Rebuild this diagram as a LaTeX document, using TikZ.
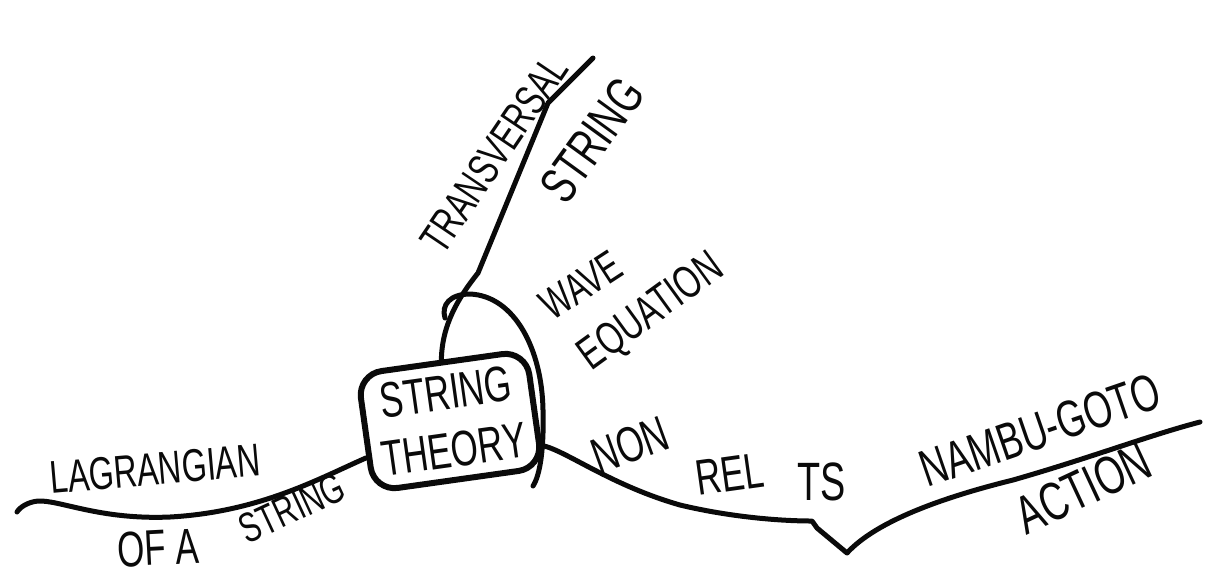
\documentclass[tikz,border=0pt]{standalone}
\usepackage{fontspec}
\setmainfont{Liberation Sans}
\newfontfamily\handfont[FakeStretch=0.7]{Liberation Sans}
\usetikzlibrary{calc}
\definecolor{ink}{gray}{0.04}
\tikzset{
  topic/.style={
    rectangle, draw=ink, line width=3pt, rounded corners=12pt,
    minimum width=85pt, minimum height=59pt,
    align=center, inner sep=2pt, text=ink,
    font=\handfont\fontsize{25}{29}\selectfont
  },
  branch/.style={draw=ink, line width=2.5pt, line cap=round, line join=round},
  tag/.style={text=ink, inner sep=0pt, font=\handfont\fontsize{#1}{#1}\selectfont},
  tag/.default=24
}

\begin{document}
\begin{tikzpicture}[x=0.5pt, y=-0.5pt]
  \useasboundingbox (0,0) rectangle (1214,580);

  % central topic
  \node[topic, rotate=8] (theory) at (450,421) {STRING\\THEORY};

  % free ends of the branches
  \coordinate (lagEnd) at (17,512);
  \coordinate (transEnd) at (593,58);
  \coordinate (waveA) at (445,318);
  \coordinate (waveB) at (533,486);
  \coordinate (vTip) at (847,553);
  \coordinate (nambuEnd) at (1200,422);
  \coordinate (lagIn) at ($(theory.north west)!0.7!(theory.south west)$);
  \coordinate (relIn) at ($(theory.north east)!0.8!(theory.south east)$);

  % branches
  \draw[branch] (lagIn) .. controls (320,478) and (260,512) .. (170,517)
    .. controls (100,520) and (60,500) .. (38,501)
    .. controls (28,502) and (20,507) .. (lagEnd);
  \draw[branch] (theory.north) .. controls (442,325) and (458,298) .. (478,273)
    -- (548,103) -- (transEnd);
  \draw[branch] (waveA) .. controls (441,305) and (450,294) .. (470,294)
    .. controls (515,296) and (542,350) .. (543,410)
    .. controls (544,450) and (540,475) .. (waveB);
  \draw[branch] (relIn) .. controls (565,450) and (610,485) .. (680,505)
    .. controls (730,517) and (780,521) .. (812,521) -- (817,528) -- (vTip)
    .. controls (870,528) and (920,503) .. (1013,480)
    .. controls (1090,458) and (1150,435) .. (nambuEnd);

  % labels
  \node[tag=22, rotate=56] (transL) at (494,154) {TRANSVERSAL};
  \node[tag=26, rotate=54] (stringT) at (592,140) {STRING};
  \node[tag=22, rotate=33] (waveL) at (581,285) {WAVE};
  \node[tag=23, rotate=36] (eqL) at (652,313) {EQUATION};
  \node[tag=23, rotate=5] (lagL) at (155,469) {LAGRANGIAN};
  \node[tag=25, rotate=3] (ofaL) at (158,548) {OF A};
  \node[tag=21, rotate=25] (stringL) at (292,508) {STRING};
  \node[tag=25, rotate=20] (nonL) at (630,445) {NON};
  \node[tag=25, rotate=8] (relL) at (730,474) {REL};
  \node[tag=27] (tsL) at (822,482) {TS};
  \node[tag=26, rotate=19] (nambuL) at (1040,430) {NAMBU-GOTO};
  \node[tag=27, rotate=25] (actionL) at (1083,488) {ACTION};
\end{tikzpicture}
\end{document}
